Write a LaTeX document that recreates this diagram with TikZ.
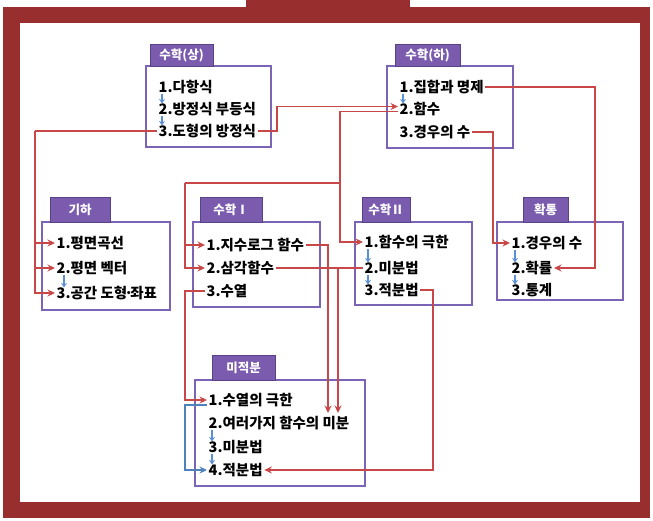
\documentclass[tikz,border=0pt]{standalone}
\usepackage{fontspec}
\setmainfont{Noto Sans CJK KR}
\usetikzlibrary{arrows.meta}
\definecolor{framec}{HTML}{982F2E}
\definecolor{boxc}{HTML}{7B63B5}
\definecolor{lblc}{HTML}{7A5BAE}
\definecolor{lbld}{HTML}{5A4288}
\definecolor{rc}{HTML}{C8484A}
\definecolor{bc}{HTML}{4F81BD}
\definecolor{sbc}{HTML}{5B8FD6}
\begin{document}
\begin{tikzpicture}[x=1pt,y=-1pt,
 panel/.style={draw=boxc,line width=1.6pt,fill=white,inner sep=0pt},
 lbl/.style={draw=lbld,line width=0.8pt,fill=lblc,inner sep=0pt,text=white,font=\bfseries\fontsize{12.5}{12.5}\selectfont},
 item/.style={anchor=west,inner sep=1.5pt,font=\bfseries\fontsize{14.5}{14.5}\selectfont},
 rl/.style={draw=rc,line width=1.3pt,-{Stealth[length=7.5pt,width=7pt]}},
 rn/.style={draw=rc,line width=1.3pt},
 bl/.style={draw=bc,line width=1.3pt,-{Stealth[length=7.5pt,width=7pt]}},
 sb/.style={draw=sbc,line width=1.3pt,-{Stealth[length=4.5pt,width=6pt]}}
]
\useasboundingbox (0,0) rectangle (653,521);
% frame
\fill[white] (0,0) rectangle (653,521);
\fill[framec] (3,7) rectangle (650,518);
\fill[framec] (246,0) rectangle (410,7);
\fill[white] (20,23) rectangle (640,502);

% panels
\node[panel,minimum width=125,minimum height=81] (Psa) at (208.5,106.5) {};
\node[panel,minimum width=126,minimum height=82] (Pha) at (450,107) {};
\node[panel,minimum width=128,minimum height=88] (Pgi) at (106,266) {};
\node[panel,minimum width=127,minimum height=85] (Pm1) at (256.5,264.5) {};
\node[panel,minimum width=117,minimum height=83] (Pm2) at (413.5,263.5) {};
\node[panel,minimum width=126,minimum height=78] (Ppr) at (560,261) {};
\node[panel,minimum width=170,minimum height=106] (Pc) at (280,433) {};

% labels
\node[lbl,minimum width=63,minimum height=22] (Lsa) at (181.5,55) {수학(상)};
\node[lbl,minimum width=65,minimum height=22] (Lha) at (427.5,55) {수학(하)};
\node[lbl,minimum width=60,minimum height=25] (Lgi) at (80,209.5) {기하};
\node[lbl,minimum width=62,minimum height=25] (Lm1) at (231,209.5) {수학Ⅰ};
\node[lbl,minimum width=48,minimum height=25] (Lm2) at (386,209.5) {수학Ⅱ};
\node[lbl,minimum width=45,minimum height=25] (Lpr) at (545.5,209.5) {확통};
\node[lbl,minimum width=63,minimum height=25] (Lc) at (243.5,367.5) {미적분};

% items
\node[item] (sa1) at (157,87) {1.다항식};
\node[item] (sa2) at (157,109) {2.방정식 부등식};
\node[item] (sa3) at (157,131) {3.도형의 방정식};
\node[item] (ha1) at (398,87) {1.집합과 명제};
\node[item] (ha2) at (398,109) {2.함수};
\node[item] (ha3) at (398,132) {3.경우의 수};
\node[item] (gi1) at (55,243) {1.평면곡선};
\node[item] (gi2) at (55,268) {2.평면 벡터};
\node[item] (gi3) at (55,293) {3.공간 도형\kern-0.2em·\kern-0.2em좌표};
\node[item] (m1a) at (205,245) {1.지수로그 함수};
\node[item] (m1b) at (205,268) {2.삼각함수};
\node[item] (m1c) at (205,291) {3.수열};
\node[item] (m2a) at (363,242) {1.함수의 극한};
\node[item] (m2b) at (363,268) {2.미분법};
\node[item] (m2c) at (363,290) {3.적분법};
\node[item] (pr1) at (510,243) {1.경우의 수};
\node[item] (pr2) at (510,268) {2.확률};
\node[item] (pr3) at (510,290) {3.통계};
\node[item] (c1) at (207,400) {1.수열의 극한};
\node[item] (c2) at (207,423) {2.여러가지 함수의 미분};
\node[item] (c3) at (207,447) {3.미분법};
\node[item] (c4) at (207,470) {4.적분법};

% small blue arrows
\draw[sb] ([xshift=5pt,yshift=2pt]sa1.south west) -- ([xshift=5pt,yshift=-3pt]sa2.north west);
\draw[sb] ([xshift=5pt,yshift=2pt]sa2.south west) -- ([xshift=5pt,yshift=-3pt]sa3.north west);
\draw[sb] ([xshift=5pt,yshift=2pt]ha1.south west) -- ([xshift=5pt,yshift=-3pt]ha2.north west);
\draw[sb] ([xshift=9pt,yshift=2pt]gi2.south west) -- ([xshift=9pt,yshift=-3pt]gi3.north west);
\draw[sb] ([xshift=5pt,yshift=2pt]m2a.south west) -- ([xshift=5pt,yshift=-3pt]m2b.north west);
\draw[sb] ([xshift=5pt,yshift=2pt]m2b.south west) -- ([xshift=5pt,yshift=-3pt]m2c.north west);
\draw[sb] ([xshift=5pt,yshift=2pt]pr1.south west) -- ([xshift=5pt,yshift=-3pt]pr2.north west);
\draw[sb] ([xshift=5pt,yshift=2pt]pr2.south west) -- ([xshift=5pt,yshift=-3pt]pr3.north west);
\draw[sb] ([xshift=5pt,yshift=2pt]c2.south west) -- ([xshift=5pt,yshift=-3pt]c3.north west);
\draw[sb] ([xshift=5pt,yshift=2pt]c3.south west) -- ([xshift=5pt,yshift=-3pt]c4.north west);

% red connectors
\coordinate (j1) at (35,131);
\draw[rn] (sa3.west) -- (j1);
\draw[rl] (j1) |- (gi1.west);
\draw[rl] (j1) |- (gi2.west);
\draw[rl] (j1) |- (gi3.west);

\coordinate (j2) at (277,131);
\draw[rl] (sa3.east) -- (j2) |- ([yshift=2.5pt]ha2.west);

\coordinate (j3) at (340,183);
\coordinate (j4) at (185,183);
\draw[rl] ([yshift=-2.5pt]ha2.west) -| (j3) |- (m2a.west);
\draw[rn] (j3) -- (j4);
\draw[rl] (j4) |- (m1a.west);
\draw[rl] (j4) |- (m1b.west);

\coordinate (j5) at (595,268);
\draw[rl] (ha1.east) -| (j5) -- (pr2.east);

\coordinate (j6) at (493,132);
\draw[rl] (ha3.east) -- (j6) |- (pr1.west);

\coordinate (j7) at (185,291);
\draw[rl] (m1c.west) -- (j7) |- (c1.west);

\coordinate (a7) at (328,413);
\draw[rl] (m1a.east) -| (a7);

\coordinate (j8) at (338,268);
\coordinate (a8) at (338,413);
\draw[rn] (m1b.east) -- (j8);
\draw[rl] (m2b.west) -| (a8);

\coordinate (j9) at (433,470);
\draw[rl] (m2c.east) -| (j9) -- (c4.east);

% blue connector
\coordinate (b1) at (185,405);
\draw[bl] ([yshift=-5pt]c1.west) -- (b1) |- (c4.west);
\end{tikzpicture}
\end{document}
